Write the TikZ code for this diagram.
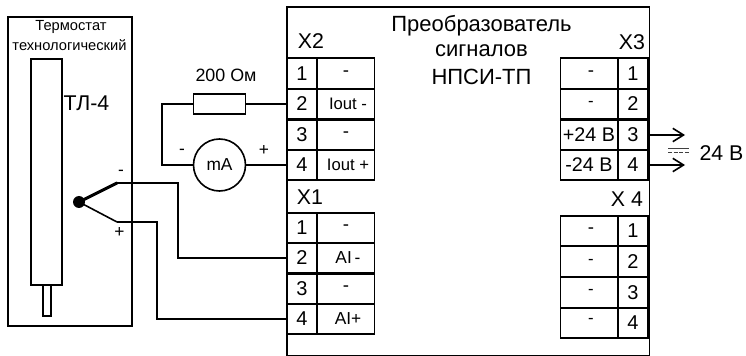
\documentclass[tikz,border=0pt]{standalone}
\usepackage{fontspec}
\setmainfont{Liberation Sans}
\usetikzlibrary{arrows.meta}
\tikzset{
  x=0.75pt,y=-0.75pt,
  wire/.style={line width=1.2pt},
  box/.style={draw,line width=1.2pt,inner sep=0pt,rectangle,anchor=north west},
  numcell/.style={draw,line width=1.4pt,inner sep=0pt,rectangle,minimum width=22.6pt,minimum height=23pt,font=\fontsize{15}{15}\selectfont},
  txtcell/.style={draw,line width=1.4pt,inner sep=0pt,rectangle,minimum width=42.8pt,minimum height=23pt,font=\fontsize{12.5}{12.5}\selectfont},
  head/.style={inner sep=0pt,font=\fontsize{16}{16}\selectfont},
  sign/.style={inner sep=0pt,font=\fontsize{13}{13}\selectfont},
  title/.style={inner sep=0pt,font=\fontsize{16.5}{16.5}\selectfont},
  outarrow/.style={line width=1.2pt,-{Straight Barb[length=8pt,width=10pt,line width=1.2pt]}},
}
\newcommand{\lft}{\hspace{3pt}}
\newcommand{\dsh}{{\fontsize{14}{14}\selectfont -}}
\newcommand{\bigtxt}[1]{{\fontsize{14.8}{14.8}\selectfont #1}}
\begin{document}
\begin{tikzpicture}
\useasboundingbox (0,0) rectangle (746,356);
\fill[white] (0,0) rectangle (746,356);

% thermostat
\node[box,minimum width=93pt,minimum height=231.75pt] (therm) at (7,16) {};
\node[inner sep=0pt,font=\fontsize{11}{11}\selectfont] (thermA) at (71,27) {Термостат};
\node[inner sep=0pt,font=\fontsize{11}{11}\selectfont] (thermB) at (69.5,45.5) {технологический};
\node[box,minimum width=23.25pt,minimum height=169.5pt] (tube) at (30,58) {};
\node[box,minimum width=6pt,minimum height=23.25pt] (stem) at (42,284) {};
\node[inner sep=0pt,font=\fontsize{16}{16}\selectfont] (tl) at (86.5,103.5) {ТЛ-4};

% converter
\node[box,minimum width=272pt,minimum height=262pt] (conv) at (286,6) {};
\node[title] (t1) at (481.5,26) {Преобразователь};
\node[title] (t2) at (481.5,51) {сигналов};
\node[title] (t3) at (481.5,77) {НПСИ-ТП};

\node[head] (hx2) at (311,41) {X2};
\node[head] (hx1) at (310,197) {X1};
\node[head] (hx3) at (632,42) {X3};
\node[head] (hx4) at (627,199) {X 4};

% X2
\node[numcell] (a1) at (302,73.5) {1};
\node[numcell] (a2) at (302,104) {2};
\node[numcell] (a3) at (302,135) {3};
\node[numcell] (a4) at (302,165) {4};
\node[txtcell] (at1) at (346,73.5) {\dsh};
\node[txtcell] (at2) at (346,104) {\lft Iout -};
\node[txtcell] (at3) at (346,135) {\dsh};
\node[txtcell] (at4) at (346,165) {\lft Iout +};
% X1
\node[numcell] (b1) at (302,228) {1};
\node[numcell] (b2) at (302,258) {2};
\node[numcell] (b3) at (302,289) {3};
\node[numcell] (b4) at (302,319) {4};
\node[txtcell] (bt1) at (346,228) {\dsh};
\node[txtcell] (bt2) at (346,258) {\lft\fontsize{13}{13}\selectfont AI\,-};
\node[txtcell] (bt3) at (346,289) {\dsh};
\node[txtcell] (bt4) at (346,319) {\lft\fontsize{13}{13}\selectfont AI+};
% X3
\node[txtcell] (ct1) at (589,73.5) {\lft\dsh};
\node[txtcell] (ct2) at (589,104) {\lft -};
\node[txtcell] (ct3) at (589,135) {\bigtxt{+24 В}};
\node[txtcell] (ct4) at (589,165) {\bigtxt{-24 В}};
\node[numcell] (c1) at (633,73.5) {1};
\node[numcell] (c2) at (633,104) {2};
\node[numcell] (c3) at (633,135) {3};
\node[numcell] (c4) at (633,165) {4};
% X4
\node[txtcell] (dt1) at (589,231) {\lft\dsh};
\node[txtcell] (dt2) at (589,261.7) {\lft -};
\node[txtcell] (dt3) at (589,292.3) {\lft -};
\node[txtcell] (dt4) at (589,323) {\raisebox{3pt}{\lft -}};
\node[numcell] (d1) at (633,231) {1};
\node[numcell] (d2) at (633,261.7) {2};
\node[numcell] (d3) at (633,292.3) {3};
\node[numcell] (d4) at (633,323) {4};

% resistor, meter
\node[draw,line width=1.2pt,rectangle,inner sep=0pt,minimum width=39pt,minimum height=15pt] (res) at (219.5,104) {};
\node[inner sep=0pt,font=\fontsize{13.4}{13.4}\selectfont] (resl) at (226,75) {200 Ом};
\node[draw,line width=1.2pt,circle,inner sep=0pt,minimum size=39pt,font=\fontsize{13}{13}\selectfont] (ma) at (219.5,165) {mA};
\node[sign] (mm) at (182,152) {-};
\node[sign] (mp) at (264,150) {+};
\coordinate (lj) at (162,104);
\draw[wire] (a2.west) -- (res.east);
\draw[wire] (res.west) -- (lj) |- (ma.west);
\draw[wire] (ma.east) -- (a4.west);

% thermocouple
\node[circle,fill=black,inner sep=0pt,minimum size=9pt] (dot) at (79,202) {};
\coordinate (tn) at (117,183);
\coordinate (tp) at (117,222);
\coordinate (kn) at (178,183);
\coordinate (kp) at (157,222);
\draw[line width=2.3pt,line cap=round] (dot.center) -- (tn);
\draw[wire] (dot.center) -- (tp);
\draw[wire] (tn) -- (kn) |- (b2.west);
\draw[wire] (tp) -- (kp) |- (b4.west);
\node[sign] (tm) at (121,173) {-};
\node[sign] (tpl) at (119.5,232) {+};

% outputs
\coordinate (o3) at (685,135);
\coordinate (o4) at (685,165);
\draw[outarrow] (c3.east) -- (o3);
\draw[outarrow] (c4.east) -- (o4);
\coordinate (s1) at (668,148.5);
\coordinate (s2) at (689,148.5);
\coordinate (s3) at (668,152);
\coordinate (s4) at (689,152);
\draw[line width=0.6pt,black!75] (s1) -- (s2);
\draw[line width=0.6pt,black!75,dash pattern=on 3pt off 1.2pt] (s3) -- (s4);
\node[inner sep=0pt,font=\fontsize{16}{16}\selectfont] (v) at (721.5,153) {24 В};
\end{tikzpicture}
\end{document}
